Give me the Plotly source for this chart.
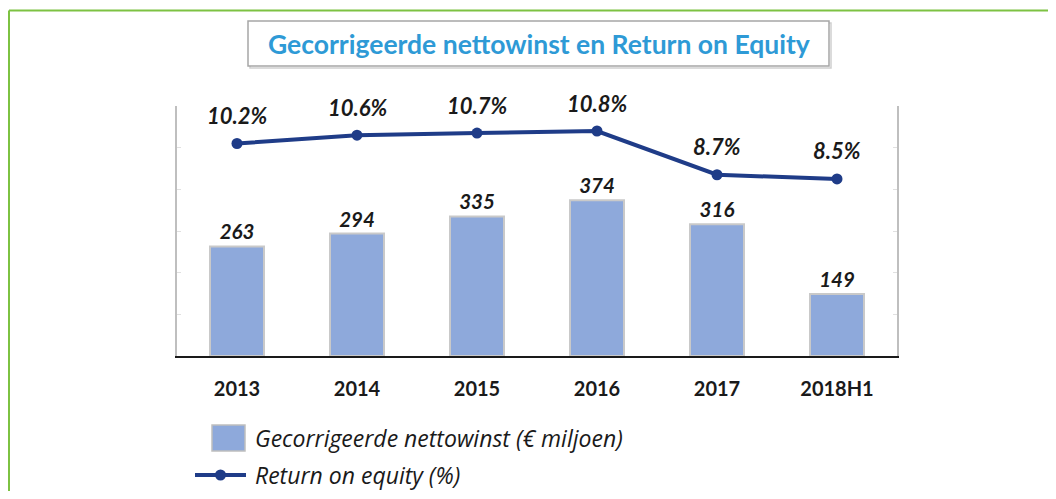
import plotly.graph_objects as go

categories = ["2013", "2014", "2015", "2016", "2017", "2018H1"]
net_profit = [263, 294, 335, 374, 316, 149]
roe = [10.2, 10.6, 10.7, 10.8, 8.7, 8.5]
roe_labels = ["10.2%", "10.6%", "10.7%", "10.8%", "8.7%", "8.5%"]
bar_name = "Gecorrigeerde nettowinst (€ miljoen)"
line_name = "Return on equity (%)"
title_text = "Gecorrigeerde nettowinst en Return on Equity"

# page body has an 8px margin: figure is sized to fit inside the window
OFF = 8
W, H = 1056 - 2 * OFF, 499 - 2 * OFF
def px(x):
    return (x - OFF) / W
def py(y):
    return 1 - (y - OFF) / H

BAR_COLOR = "#8EA9DB"
LINE_COLOR = "#1F3C88"
FONT = "Lato"
LEG_FONT = "Open Sans"

fig = go.Figure()
fig.add_trace(go.Bar(
    x=categories, y=net_profit, name=bar_name,
    marker=dict(color=BAR_COLOR, line=dict(color="#C9C9C9", width=2)),
    width=0.45,
    text=[str(v) for v in net_profit], textposition="outside",
    textfont=dict(family=FONT, size=20.5, color="#1a1a1a", weight="bold", style="italic"),
    yaxis="y", showlegend=False,
))
fig.add_trace(go.Scatter(
    x=categories, y=roe, name=line_name, mode="lines+markers",
    line=dict(color=LINE_COLOR, width=4),
    marker=dict(color=LINE_COLOR, size=11),
    yaxis="y2", showlegend=False,
))

annotations = []
for i, (v, t) in enumerate(zip(roe, roe_labels)):
    annotations.append(dict(
        x=i, y=v, xref="x", yref="y2", text=t, showarrow=False,
        yshift=28, font=dict(family=FONT, size=22, color="#1a1a1a", weight="bold", style="italic"),
    ))

annotations.append(dict(
    x=px(539), y=py(44), xref="paper", yref="paper", text=title_text, showarrow=False,
    font=dict(family=FONT, size=26.5, color="#2E9AD6", weight="bold"),
    xanchor="center", yanchor="middle",
))
annotations.append(dict(
    x=px(253), y=py(438), xref="paper", yref="paper", text=bar_name, showarrow=False,
    xanchor="left", yanchor="middle",
    font=dict(family=LEG_FONT, size=23, color="#1a1a1a", style="italic"),
))
annotations.append(dict(
    x=px(253), y=py(475), xref="paper", yref="paper", text=line_name, showarrow=False,
    xanchor="left", yanchor="middle",
    font=dict(family=LEG_FONT, size=23, color="#1a1a1a", style="italic"),
))

shapes = [
    dict(type="line", xref="paper", yref="paper", x0=px(9), x1=1.0, y0=py(10.5), y1=py(10.5),
         line=dict(color="#7DC242", width=2)),
    dict(type="line", xref="paper", yref="paper", x0=px(9), x1=px(9), y0=py(10.5), y1=0,
         line=dict(color="#7DC242", width=2)),
    dict(type="rect", xref="paper", yref="paper", x0=px(250), x1=px(831), y0=py(23), y1=py(68),
         line=dict(color="#D0D0D0", width=1.5), fillcolor="rgba(0,0,0,0)", layer="below"),
    dict(type="rect", xref="paper", yref="paper", x0=px(248), x1=px(829), y0=py(21), y1=py(66),
         line=dict(color="#A6A6A6", width=1.5), fillcolor="white", layer="below"),
    dict(type="rect", xref="paper", yref="paper", x0=px(212), x1=px(245), y0=py(425), y1=py(451),
         line=dict(color="#BFBFBF", width=1.5), fillcolor=BAR_COLOR),
    dict(type="line", xref="paper", yref="paper", x0=px(195), x1=px(246), y0=py(475), y1=py(475),
         line=dict(color=LINE_COLOR, width=4)),
    dict(type="circle", xref="paper", yref="paper", x0=px(215), x1=px(226), y0=py(469.5), y1=py(480.5),
         line=dict(color=LINE_COLOR, width=0), fillcolor=LINE_COLOR),
]

fig.update_layout(
    width=W, height=H,
    margin=dict(l=0, r=0, t=0, b=0),
    paper_bgcolor="white", plot_bgcolor="white",
    font=dict(family=FONT, color="#1a1a1a"),
    showlegend=False,
    xaxis=dict(
        type="category",
        categoryorder="array", categoryarray=categories,
        range=[-0.5, len(categories) - 0.5],
        domain=[px(177), px(897)],
        showline=True, linecolor="#1a1a1a", linewidth=2,
        ticks="", showgrid=False,
        tickfont=dict(family=FONT, size=20, color="#1a1a1a", weight="bold"),
        ticklabelstandoff=14,
    ),
    yaxis=dict(
        domain=[py(356), py(106)],
        range=[0, 600], tickvals=[0, 100, 200, 300, 400, 500, 600],
        showticklabels=False, showgrid=False, zeroline=False,
        showline=True, linecolor="#BFBFBF", linewidth=2,
        ticks="inside", ticklen=4, tickcolor="#E0E0E0",
    ),
    yaxis2=dict(
        domain=[py(356), py(106)],
        overlaying="y", side="right",
        range=[0, 12], tickvals=[0, 2, 4, 6, 8, 10, 12],
        showticklabels=False, showgrid=False, zeroline=False,
        showline=True, linecolor="#BFBFBF", linewidth=2,
        ticks="inside", ticklen=4, tickcolor="#E0E0E0",
    ),
    annotations=annotations,
    shapes=shapes,
)

fig.write_html("out.html")
